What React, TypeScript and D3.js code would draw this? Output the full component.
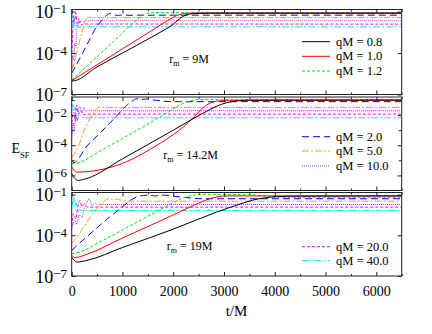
import React, { useEffect, useRef } from 'react'
import * as d3 from 'd3'

// t/M axis
const xMajorTicks = [0, 1000, 2000, 3000, 4000, 5000, 6000]
const xMinorTicks = [500, 1500, 2500, 3500, 4500, 5500, 6500]

const qLabels = ['0.8', '1.0', '1.2', '2.0', '5.0', '10.0', '20.0', '40.0']
const radiusLabels = ['9M', '14.2M', '19M']

// exponents of labelled y ticks, and the top of each panel (log10)
const yLabelExp = [[-1, -4, -7], [-2, -4, -6], [-1, -4, -7]]
const yTopExp = [-0.85, -0.8, -0.85]

// every curve: [t/M, log10 E_SF]
// r_m = 9M
const r9_q08 = [[0, -6.03], [60, -6.0], [500, -5.0], [1000, -4.0], [1500, -3.0], [1800, -2.38], [2000, -1.92], [2130, -1.5], [2250, -1.25], [2430, -1.14], [2700, -1.12], [6500, -1.12]]
const r9_q10 = [[0, -6.0], [500, -4.85], [1000, -3.7], [1500, -2.55], [1800, -1.85], [1980, -1.45], [2120, -1.22], [2300, -1.11], [2600, -1.1], [6500, -1.1]]
const r9_q12 = [[0, -5.96], [400, -4.6], [800, -3.25], [1100, -2.2], [1250, -1.7], [1380, -1.3], [1500, -1.12], [1650, -1.07], [1900, -1.08], [6500, -1.08]]
const r9_q20 = [[0, -5.47], [100, -4.8], [300, -3.4], [500, -2.05], [600, -1.6], [680, -1.3], [740, -1.15], [820, -1.2], [900, -1.28], [1000, -1.24], [1150, -1.27], [1300, -1.26], [6500, -1.26]]
const r9_q50 = [[0, -5.23], [60, -4.5], [150, -3.2], [230, -2.1], [270, -1.62], [310, -1.45], [350, -1.42], [420, -1.44], [6500, -1.43]]
const r9_q100 = [[0, -5.0], [20, -4.2], [40, -4.5], [60, -3.3], [80, -3.6], [100, -2.4], [120, -2.0], [140, -1.45], [160, -1.8], [190, -1.6], [230, -1.72], [280, -1.66], [6500, -1.67]]
const r9_q200 = [[0, -4.0], [20, -2.6], [40, -1.3], [60, -1.7], [80, -1.1], [110, -1.95], [140, -1.75], [180, -1.98], [230, -1.9], [6500, -1.91]]
const r9_q400 = [[0, -1.5], [15, -1.1], [30, -2.0], [50, -1.5], [70, -2.3], [100, -2.0], [140, -2.15], [200, -2.1], [6500, -2.11]]

// r_m = 14.2M
const r14_q08 = [[0, -5.87], [60, -6.2], [130, -6.33], [300, -6.2], [1000, -4.9], [2000, -3.0], [2600, -1.85], [2850, -1.42], [3050, -1.18], [3250, -1.06], [3500, -1.01], [6500, -1.0]]
const r14_q10 = [[0, -5.44], [100, -5.78], [300, -5.75], [600, -5.6], [1000, -5.2], [1400, -4.55], [1750, -3.85], [2000, -3.3], [2200, -2.78], [2400, -2.15], [2550, -1.62], [2700, -1.25], [2850, -1.08], [3100, -1.02], [6500, -1.02]]
const r14_q12 = [[0, -5.22], [150, -5.15], [500, -4.5], [1000, -3.55], [1500, -2.6], [1900, -1.8], [2150, -1.3], [2350, -1.05], [2550, -0.96], [2800, -0.97], [3100, -0.99], [6500, -0.99]]
const r14_q20 = [[0, -5.0], [40, -5.15], [300, -4.05], [600, -3.05], [900, -2.0], [1100, -1.3], [1200, -1.05], [1280, -0.92], [1380, -0.96], [1480, -0.93], [1600, -1.0], [1750, -1.05], [1900, -1.1], [2100, -1.11], [6500, -1.11]]
const r14_q50 = [[0, -4.8], [100, -4.3], [250, -3.0], [400, -2.0], [480, -1.6], [550, -1.47], [650, -1.5], [6500, -1.49]]
const r14_q100 = [[0, -3.55], [30, -2.5], [50, -3.0], [80, -2.0], [110, -2.4], [140, -1.6], [165, -1.4], [200, -1.85], [240, -1.5], [280, -1.78], [330, -1.65], [400, -1.71], [6500, -1.71]]
const r14_q200 = [[0, -2.5], [40, -1.8], [70, -2.4], [98, -1.33], [130, -1.95], [170, -1.7], [220, -1.97], [300, -1.93], [6500, -1.93]]
const r14_q400 = [[0, -1.6], [20, -1.3], [40, -1.75], [60, -1.45], [85, -2.05], [110, -2.3], [150, -2.12], [200, -2.18], [6500, -2.18]]

// r_m = 19M
const r19_q08 = [[0, -5.61], [100, -5.97], [300, -5.85], [1000, -4.9], [2000, -3.55], [2850, -2.3], [3300, -1.72], [3600, -1.38], [3900, -1.2], [4300, -1.12], [6500, -1.1]]
const r19_q10 = [[0, -5.48], [60, -5.65], [300, -5.4], [1000, -4.2], [1800, -2.85], [2400, -1.8], [2650, -1.4], [2850, -1.18], [3100, -1.1], [6500, -1.1]]
const r19_q12 = [[0, -5.36], [100, -5.3], [600, -4.4], [1200, -3.2], [1700, -2.2], [2000, -1.6], [2200, -1.25], [2400, -1.05], [2700, -0.98], [3100, -1.0], [3500, -1.02], [3900, -1.15], [4300, -1.2], [6500, -1.2]]
const r19_q20 = [[0, -5.11], [300, -4.1], [700, -2.8], [1000, -1.9], [1200, -1.32], [1350, -1.1], [1500, -1.05], [1650, -1.1], [1800, -1.04], [2000, -1.12], [2200, -1.2], [2500, -1.3], [2800, -1.31], [6500, -1.31]]
const r19_q50 = [[0, -4.6], [150, -3.9], [350, -2.75], [550, -1.8], [650, -1.45], [720, -1.32], [800, -1.38], [900, -1.33], [1000, -1.45], [1200, -1.49], [6500, -1.49]]
const r19_q100 = [[0, -3.52], [60, -2.9], [100, -3.2], [150, -2.5], [200, -2.7], [250, -2.0], [300, -1.55], [350, -1.3], [400, -1.8], [450, -1.62], [520, -1.76], [600, -1.73], [6500, -1.73]]
const r19_q200 = [[0, -3.3], [40, -2.4], [80, -2.8], [120, -1.9], [163, -1.44], [200, -1.9], [250, -1.7], [320, -1.95], [400, -1.93], [6500, -1.93]]
const r19_q400 = [[0, -1.31], [20, -1.8], [40, -1.2], [60, -1.9], [90, -1.6], [120, -2.3], [160, -2.1], [220, -2.2], [300, -2.17], [6500, -2.17]]

const panelSeries = [
    [r9_q08, r9_q10, r9_q12, r9_q20, r9_q50, r9_q100, r9_q200, r9_q400],
    [r14_q08, r14_q10, r14_q12, r14_q20, r14_q50, r14_q100, r14_q200, r14_q400],
    [r19_q08, r19_q10, r19_q12, r19_q20, r19_q50, r19_q100, r19_q200, r19_q400],
]

// which legend entries sit in which panel
const legendGroups = [[0, 1, 2], [3, 4, 5], [6, 7]]

const seriesStyle = [
    { color: '#000000', dash: null },
    { color: '#ff0000', dash: null },
    { color: '#00e000', dash: '3,2' },
    { color: '#0000ff', dash: '7,4' },
    { color: '#ff9a1a', dash: '7,2,2,2' },
    { color: '#a030e0', dash: '1,1' },
    { color: '#ff00ff', dash: '3,2' },
    { color: '#00e8ff', dash: '7,2,2,2' },
]

// layout of the three stacked panels
const frames = [
    { top: 9.5, bottom: 94.5, legendY: [41.7, 56.3, 71], note: [169.3, 62.7] },
    { top: 97, bottom: 190.5, legendY: [136.7, 151, 166], note: [163.3, 159] },
    { top: 192.5, bottom: 276, legendY: [246.7, 260.7], note: [166.7, 249.5] },
]

const FONT = 'Liberation Serif, Times New Roman, serif'

function App() {
    const ref = useRef(null)

    useEffect(() => {
        const svg = d3.select(ref.current)
        svg.selectAll('*').remove()

        const x = d3.scaleLinear().domain([0, 6500]).range([71.7, 401.7])

        frames.forEach((f, i) => {
            const y = d3.scaleLog()
                .domain([1e-7, Math.pow(10, yTopExp[i])])
                .range([f.bottom, f.top])

            const g = svg.append('g')

            g.append('clipPath')
                .attr('id', `clip${i}`)
                .append('rect')
                .attr('x', x(0)).attr('y', f.top)
                .attr('width', x(6500) - x(0)).attr('height', f.bottom - f.top)

            const line = d3.line()
                .x(d => x(d[0]))
                .y(d => y(Math.pow(10, d[1])))
                .curve(d3.curveMonotoneX)

            // draw faster (later) series first so the slow ones stay visible on top
            const order = [7, 6, 5, 4, 3, 2, 1, 0]
            g.append('g')
                .attr('clip-path', `url(#clip${i})`)
                .selectAll('path')
                .data(order)
                .join('path')
                .attr('d', k => line(panelSeries[i][k]))
                .attr('fill', 'none')
                .attr('stroke', k => seriesStyle[k].color)
                .attr('stroke-width', 1)
                .attr('stroke-dasharray', k => seriesStyle[k].dash)

            // frame
            g.append('rect')
                .attr('x', x(0)).attr('y', f.top)
                .attr('width', x(6500) - x(0)).attr('height', f.bottom - f.top)
                .attr('fill', 'none').attr('stroke', '#222').attr('stroke-width', 1)

            // inward ticks on all four sides
            const tickGroups = [
                { axis: d3.axisBottom(x).tickValues(xMajorTicks).tickSize(-4), at: `translate(0,${f.bottom})` },
                { axis: d3.axisBottom(x).tickValues(xMinorTicks).tickSize(-2), at: `translate(0,${f.bottom})` },
                { axis: d3.axisTop(x).tickValues(xMajorTicks).tickSize(-4), at: `translate(0,${f.top})` },
                { axis: d3.axisTop(x).tickValues(xMinorTicks).tickSize(-2), at: `translate(0,${f.top})` },
            ]
            const yMajor = yLabelExp[i].map(e => Math.pow(10, e))
            tickGroups.push(
                { axis: d3.axisLeft(y).tickValues(yMajor).tickSize(-4), at: `translate(${x(0)},0)` },
                { axis: d3.axisRight(y).tickValues(yMajor).tickSize(-4), at: `translate(${x(6500)},0)` },
            )
            if (i === 1) {
                const yMinor = [-1, -3, -5].map(e => Math.pow(10, e))
                tickGroups.push(
                    { axis: d3.axisLeft(y).tickValues(yMinor).tickSize(-3), at: `translate(${x(0)},0)` },
                    { axis: d3.axisRight(y).tickValues(yMinor).tickSize(-3), at: `translate(${x(6500)},0)` },
                )
            }
            tickGroups.forEach(t => {
                const a = g.append('g')
                    .attr('transform', t.at)
                    .call(t.axis.tickFormat(() => '').tickSizeOuter(0))
                a.select('.domain').remove()
                a.selectAll('line').attr('stroke', '#222')
            })

            // y tick labels: 10^n
            yLabelExp[i].forEach(e => {
                const ty = y(Math.pow(10, e))
                const txt = g.append('text')
                    .attr('x', 67).attr('y', ty + 6.5)
                    .attr('text-anchor', 'end')
                    .attr('font-family', FONT)
                    .attr('font-size', 18)
                txt.append('tspan').text('10')
                txt.append('tspan').attr('dy', -5).attr('font-size', 13).text(`\u2212${-e}`)
            })

            // legend
            legendGroups[i].forEach((k, j) => {
                const ly = f.legendY[j]
                g.append('line')
                    .attr('x1', 302).attr('x2', 330)
                    .attr('y1', ly).attr('y2', ly)
                    .attr('stroke', seriesStyle[k].color)
                    .attr('stroke-width', 1)
                    .attr('stroke-dasharray', seriesStyle[k].dash)
                g.append('text')
                    .attr('x', 336).attr('y', ly + 4)
                    .attr('font-family', FONT).attr('font-size', 12.5)
                    .text(`qM = ${qLabels[k]}`)
            })

            // r_m annotation
            const note = g.append('text')
                .attr('x', f.note[0]).attr('y', f.note[1])
                .attr('font-family', FONT).attr('font-size', 12)
            note.append('tspan').text('r')
            note.append('tspan').attr('dy', 3).attr('font-size', 8).text('m')
            note.append('tspan').attr('dy', -3).text(` = ${radiusLabels[i]}`)

            // t/M labels under the last panel
            if (i === frames.length - 1) {
                const ax = g.append('g')
                    .attr('transform', `translate(0,${f.bottom})`)
                    .call(d3.axisBottom(x).tickValues(xMajorTicks).tickSize(0).tickPadding(10).tickFormat(d3.format('d')))
                ax.select('.domain').remove()
                ax.attr('font-family', FONT)
                ax.selectAll('text')
                    .attr('font-family', FONT)
                    .attr('font-size', 14)
                    .attr('fill', '#000')
            }
        })

        svg.append('text')
            .attr('x', 236.5).attr('y', 316)
            .attr('text-anchor', 'middle')
            .attr('font-family', FONT).attr('font-size', 15)
            .text('t/M')

        const yl = svg.append('text')
            .attr('x', 11.5).attr('y', 152.5)
            .attr('font-family', FONT).attr('font-size', 14)
        yl.append('tspan').text('E')
        yl.append('tspan').attr('dy', 5).attr('font-size', 8.5).text('SF')
    }, [])

    return (
        <svg ref={ref} width={432} height={334}
            style={{ position: 'absolute', left: 0, top: 0, background: '#fff' }} />
    )
}

export default App
